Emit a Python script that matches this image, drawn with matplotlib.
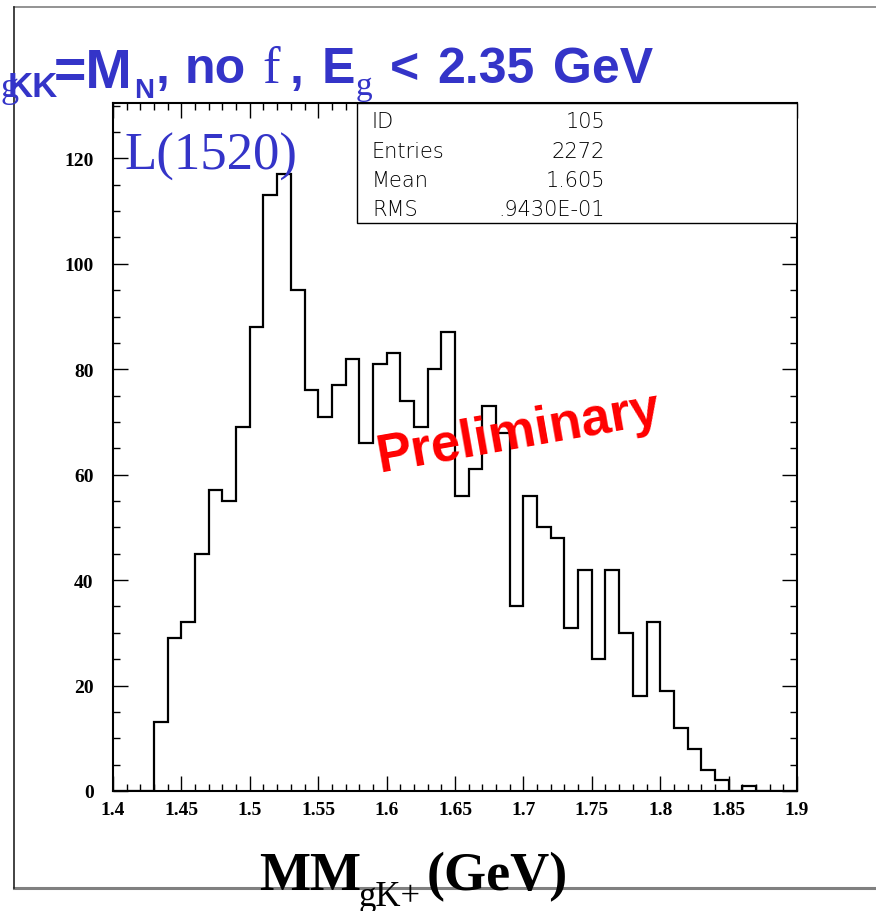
import numpy as np
import matplotlib
matplotlib.use('Agg')
import matplotlib.pyplot as plt
from matplotlib.ticker import MultipleLocator, FuncFormatter
from matplotlib.patches import Rectangle
from matplotlib.lines import Line2D

# histogram: 50 bins of 0.01 GeV between 1.4 and 1.9
x_lo, x_hi = 1.4, 1.9
counts = [0, 0, 0, 13, 29, 32, 45, 57, 55, 69,
          88, 113, 117, 95, 76, 71, 77, 82, 66, 81,
          83, 74, 69, 80, 87, 56, 61, 73, 68, 35,
          56, 50, 48, 31, 42, 25, 42, 30, 18, 32,
          19, 12, 8, 4, 2, 0, 1, 0, 0, 0]

# stats box
stat_names = ['ID', 'Entries', 'Mean', 'RMS']
stat_values = ['105', '2272', '1.605', '.9430E-01']

BLUE = '#3434c8'
W, H = 876, 912

fig = plt.figure(figsize=(W / 100, H / 100), dpi=100)


def fx(px):
    return px / W


def fy(py):
    return 1 - py / H


def put(x, y, s, size, family='Liberation Sans', weight='bold', color=BLUE, **kw):
    return fig.text(fx(x), fy(y), s, fontsize=size, family=family, weight=weight,
                    color=color, va='baseline', **kw)


# slide frame
fig.add_artist(Line2D([fx(14), 1], [fy(8), fy(8)], color='#808080', lw=1.2))
fig.add_artist(Line2D([fx(14), 1], [fy(889), fy(889)], color='#808080', lw=2.2))
fig.add_artist(Line2D([fx(14), fx(14)], [fy(8), fy(889)], color='#222222', lw=1.2))

ax = fig.add_axes([fx(113), fy(792), (797 - 113) / W, (792 - 104) / H])
edges = np.linspace(x_lo, x_hi, len(counts) + 1)
ax.stairs(counts, edges, color='black', lw=1.6, zorder=3)
ax.set_xlim(x_lo, x_hi)
ax.set_ylim(0, 130.5)

for s in ax.spines.values():
    s.set_linewidth(1.5)
ax.xaxis.set_major_locator(MultipleLocator(0.05))
ax.xaxis.set_minor_locator(MultipleLocator(0.01))
ax.yaxis.set_major_locator(MultipleLocator(20))
ax.yaxis.set_minor_locator(MultipleLocator(5))
ax.xaxis.set_major_formatter(FuncFormatter(lambda v, p: '%g' % round(v, 2)))
ax.yaxis.set_major_formatter(FuncFormatter(lambda v, p: '%d' % v))
ax.tick_params(which='both', direction='in', top=True, right=True, width=1.0)
ax.tick_params(which='major', length=11)
ax.tick_params(which='minor', length=5)
ax.tick_params(axis='x', pad=7)
ax.tick_params(axis='y', pad=14)
for lab in ax.get_xticklabels() + ax.get_yticklabels():
    lab.set_family('Liberation Serif')
    lab.set_weight('bold')
    lab.set_fontsize(14)

# stats box
ax.add_patch(Rectangle(((357 - 113) / 684, (792 - 224) / 688), (797 - 357) / 684,
                       (224 - 104) / 688, transform=ax.transAxes, facecolor='white',
                       edgecolor='black', lw=1.0, zorder=4))
for i, (n, v) in enumerate(zip(stat_names, stat_values)):
    yb = 128 + 29.5 * i
    put(372, yb, n, 15, family='DejaVu Sans', weight='light', color='black', zorder=5)
    put(605, yb, v, 15, family='DejaVu Sans', weight='light', color='black',
        ha='right', zorder=5)

# particle label
put(125, 170, 'L(1520)', 38, family='Liberation Serif', weight='normal')

# preliminary stamp
put(380, 472, 'Preliminary', 38, color='#ff0000', rotation=10,
    rotation_mode='anchor', zorder=1)

# title, partly cut at the left edge
put(0, 88, 'MM', 40, ha='right')
put(0, 97, 'g', 26, family='Liberation Serif', weight='normal')
put(8, 97, 'KK', 25)
put(54, 88, '=M', 40)
put(134, 98, 'N', 20)
put(156, 83, ',', 36)
put(185, 83, 'no', 36)
put(262, 83, 'f', 38, family='Liberation Serif', weight='normal')
put(290, 83, ',', 36)
put(322, 83, 'E', 36)
put(356, 95, 'g', 24, family='Liberation Serif', weight='normal')
put(390, 83, '<', 36)
put(437, 83, '2.35', 36)
put(553, 83, 'GeV', 36)

# x axis title
put(259, 890, 'MM', 39, family='Liberation Serif', color='black')
put(358, 906, 'gK+', 25, family='Liberation Serif', weight='normal', color='black')
put(427, 890, '(GeV)', 39, family='Liberation Serif', color='black')

fig.savefig('out.png', dpi=100)
